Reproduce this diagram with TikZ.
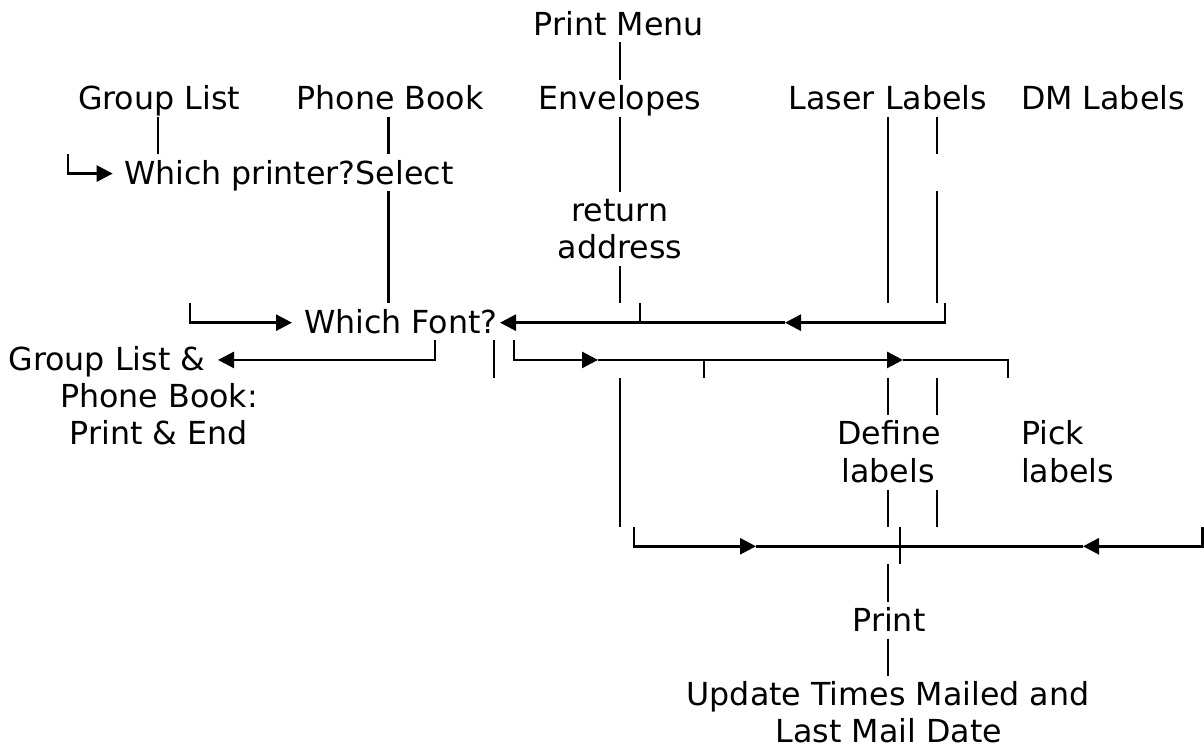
\documentclass[tikz,border=0pt]{standalone}
\usepackage{fontspec}
\setmainfont{DejaVu Sans}
\usetikzlibrary{arrows.meta}
\begin{document}
\begin{tikzpicture}[x=1pt,y=-1pt,
  every node/.style={inner sep=0pt,outer sep=0pt,font=\fontsize{31.7}{37.27}\selectfont},
  lbl/.style={anchor=base},
  lblw/.style={anchor=base west},
  wire/.style={line width=2.7pt},
  arr/.style={wire,-{Triangle[length=16pt,width=16pt]}}]
\fill[white] (0,0) rectangle (1204,748);
\useasboundingbox (0,0) rectangle (1204,748);

% menu items and actions (baselines on a 37.27pt row grid)
\node[lbl]  (menu)    at (619,35)      {Print Menu};
\node[lbl]  (group)   at (159,109.54)  {Group List};
\node[lbl]  (phone)   at (390,109.54)  {Phone Book};
\node[lbl]  (env)     at (620,109.54)  {Envelopes};
\node[lbl]  (laser)   at (888,109.54)  {Laser Labels};
\node[lblw] (dm)      at (1021,109.54) {DM Labels};
\node[lblw] (printer) at (124,184.08)  {Which printer?Select};
\node[lbl]  (ret)     at (620,221.35)  {return};
\node[lbl]  (addr)    at (620,258.62)  {address};
\node[lblw] (font)    at (304,333.16)  {Which Font?};
\node[lblw] (gpl)     at (8.5,370.43)  {Group List \&};
\node[lbl]  (gpb)     at (159,407.70)  {Phone Book:};
\node[lbl]  (gpe)     at (159,444.97)  {Print \& End};
\node[lbl]  (define)  at (889,444.97)  {Define};
\node[lbl]  (deflab)  at (888,482.24)  {labels};
\node[lblw] (pick)    at (1021,444.97) {Pick};
\node[lblw] (picklab) at (1021,482.24) {labels};
\node[lbl]  (print)   at (889,631.32)  {Print};
\node[lbl]  (upd)     at (888,705.86)  {Update Times Mailed and};
\node[lbl,text depth=0pt] (last) at (889,742.6) {Last Mail Date};

% vertical bars
\draw[wire] (620,42.27) -- (620,79.77);
\draw[wire] (620,116.81) -- (620,191.58);
\draw[wire] (620,265.89) -- (620,303.39);
\draw[wire] (620,377.70) -- (620,527.01);
\draw[wire] (158,116.81) -- (158,154.31);
\draw[wire] (388.5,116.81) -- (388.5,154.31);
\draw[wire] (388.5,191.35) -- (388.5,303.39);
\draw[wire] (888,116.81) -- (888,303.39);
\draw[wire] (888,377.70) -- (888,415.20);
\draw[wire] (888,489.51) -- (888,527.01);
\draw[wire] (888,564.05) -- (888,601.55);
\draw[wire] (888,638.59) -- (888,676.09);
\draw[wire] (937,116.81) -- (937,154.31);
\draw[wire] (937,191.35) -- (937,303.39);
\draw[wire] (937,377.70) -- (937,415.20);
\draw[wire] (937,489.51) -- (937,527.01);
\draw[wire] (494,340.43) -- (494,377.93);
\draw[wire] (900,526.78) -- (900,564.28);

% group list -> which printer
\draw[arr] (68,154.08) |- (112.7,173.58);

% into "Which Font?"
\draw[arr] (190,303.16) |- (292,322.66);
\draw[arr] (945,303.16) |- (785,322.66);
\draw[arr] (785,322.66) -- (500,322.66);
\draw[wire] (640,303.16) -- (640,322.66);

% out of "Which Font?"
\draw[arr] (435,340.43) |- (218,359.93);
\draw[arr] (514,340.43) |- (598,359.93);
\draw[arr] (598,359.93) -- (903,359.93);
\draw[wire] (903,359.93) -| (1008,377.93);
\draw[wire] (704,359.93) -- (704,377.93);

% collecting line towards Print
\draw[arr] (634,526.78) |- (756,546.28);
\draw[wire] (756,546.28) -- (1083,546.28);
\draw[arr] (1202.6,526.78) |- (1083,546.28);
\end{tikzpicture}
\end{document}
